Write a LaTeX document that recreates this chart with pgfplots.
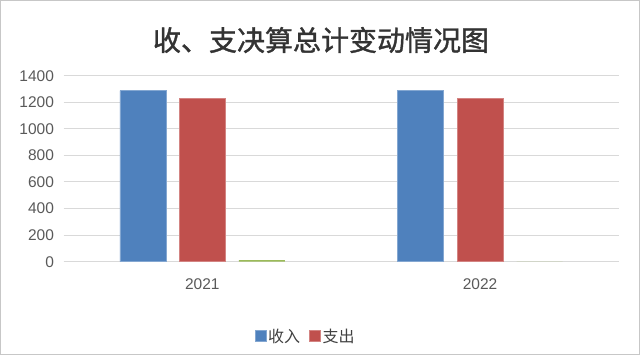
\documentclass[border=0pt]{standalone}
\usepackage{fontspec}
\setmainfont{Liberation Sans}
\newfontfamily\cjk{Noto Sans CJK SC}
\newfontfamily\cjkt[FakeBold=1.3]{Noto Sans CJK SC}
\usepackage{pgfplots}
\pgfplotsset{compat=1.18}
\definecolor{cblue}{HTML}{4F81BD}
\definecolor{cred}{HTML}{C0504D}
\definecolor{cgreen}{HTML}{9BBB59}
\definecolor{cgrid}{HTML}{D9D9D9}
\definecolor{ctxt}{HTML}{595959}
\begin{document}
\begin{tikzpicture}[x=1pt,y=1pt]
\path[use as bounding box] (0,0) rectangle (640,355);
\draw[black!22, line width=1pt] (0.5,0.5) rectangle (639.5,354.5);
\node[font=\cjkt\fontsize{28}{30}\selectfont, text=black!80] at (321,315) {收、支决算总计变动情况图};
\begin{axis}[
  at={(63.5pt,93.3pt)}, anchor=south west, scale only axis,
  width=555.4pt, height=186pt,
  ymin=0, ymax=1400, ytick={0,200,...,1400},
  xmin=-0.5, xmax=1.5, xtick={0,1}, xticklabels={2021,2022},
  axis x line*=bottom, axis y line*=left,
  x axis line style={cgrid, line width=1pt},
  y axis line style={draw=none},
  major tick length=0pt,
  ymajorgrids, grid style={cgrid, line width=1pt},
  /pgf/number format/assume math mode=true,
  /pgf/number format/1000 sep={},
  tick label style={font=\fontsize{15.5}{17}\selectfont, text=ctxt},
  yticklabel style={xshift=-6pt},
  xticklabel style={yshift=-13pt},
  ybar, bar width=46pt,
  legend style={draw=none, fill=none, at={(rel axis cs:0.436,-0.40)}, anchor=center,
    legend columns=-1, font=\cjk\fontsize{16}{18}\selectfont, text=black!75,
    /tikz/every even column/.append style={column sep=7pt},
    inner sep=0pt},
  legend image code/.code={\fill[#1] (0pt,-5pt) rectangle (11pt,6pt);},
]
\addplot[fill=cblue, draw=cblue!70!white, bar shift=-59.5pt] coordinates {(0,1288) (1,1288)};
\addplot[fill=cred, draw=cred!70!white, bar shift=0pt] coordinates {(0,1232) (1,1232)};
\addplot[fill=cgreen, draw=none, bar shift=59.5pt, forget plot] coordinates {(0,12) (1,0)};
\legend{收入,支出}
\end{axis}
\end{tikzpicture}
\end{document}
